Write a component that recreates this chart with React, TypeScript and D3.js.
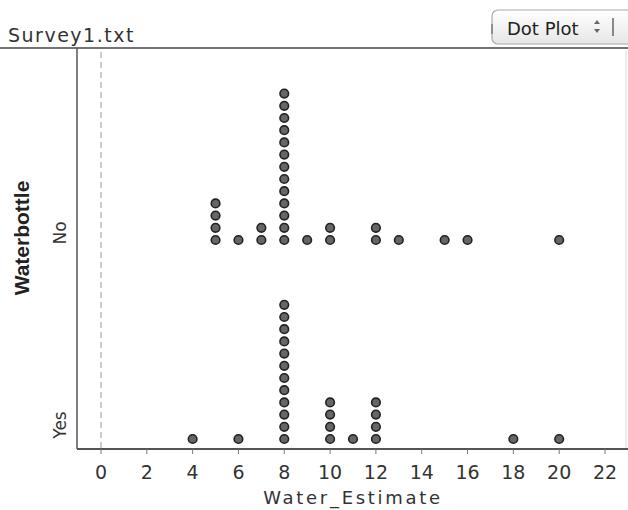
import React from "react";
import * as d3 from "d3";

const groups = ["No", "Yes"];
const noValues = [5, 6, 7, 8, 9, 10, 12, 13, 15, 16, 20];
const noCounts = [4, 1, 2, 13, 1, 2, 2, 1, 1, 1, 1];
const yesValues = [4, 6, 8, 10, 11, 12, 18, 20];
const yesCounts = [1, 1, 12, 4, 1, 4, 1, 1];
const xTicks = [0, 2, 4, 6, 8, 10, 12, 14, 16, 18, 20, 22];
const title = "Survey1.txt";
const xLabel = "Water_Estimate";
const yLabel = "Waterbottle";

const W = 628;
const H = 510;
const font = "'DejaVu Sans', sans-serif";

export default function App() {
  const x = d3.scaleLinear().domain([0, 22]).range([101, 605]);
  const y = d3.scalePoint<string>().domain(groups).range([240, 439]);
  const stack = d3.scaleLinear().domain([0, 1]).range([0, -12.2]);

  const series: { g: string; vals: number[]; counts: number[] }[] = [
    { g: "No", vals: noValues, counts: noCounts },
    { g: "Yes", vals: yesValues, counts: yesCounts },
  ];

  const dots: { cx: number; cy: number; key: string }[] = [];
  series.forEach((s) => {
    s.vals.forEach((v, i) => {
      d3.range(s.counts[i]).forEach((k) => {
        dots.push({ cx: x(v), cy: (y(s.g) as number) + stack(k), key: `${s.g}-${v}-${k}` });
      });
    });
  });

  const axisY = 449;
  const leftX = 77;

  return (
    <div style={{ position: "absolute", left: 0, top: 0 }}>
      <svg width={W} height={H} style={{ display: "block", background: "#fff" }}>
        <defs>
          <linearGradient id="btn" x1="0" y1="0" x2="0" y2="1">
            <stop offset="0" stopColor="#ffffff" />
            <stop offset="1" stopColor="#e6e6e6" />
          </linearGradient>
        </defs>
        {/* title */}
        <text x={8} y={42} fontFamily={font} fontSize={19} letterSpacing={1.5} fill="#333">
          {title}
        </text>
        {/* button */}
        <rect x={492} y={10} width={145} height={34} rx={6} fill="url(#btn)" stroke="#aaa" strokeWidth={1.2} />
        <line x1={492} y1={24} x2={492} y2={34} stroke="#555" strokeWidth={1} />
        <text x={507} y={35} fontFamily={font} fontSize={18} fill="#222">
          Dot Plot
        </text>
        <path d="M594,24 l3,-4 l3,4 z M594,29 l3,4 l3,-4 z" fill="#666" />
        <line x1={613} y1={18} x2={613} y2={36} stroke="#666" strokeWidth={1.5} />
        {/* top separator */}
        <line x1={0} y1={48} x2={W} y2={48} stroke="#444" strokeWidth={1.5} />
        {/* right faint border */}
        <line x1={626} y1={50} x2={626} y2={449} stroke="#ddd" strokeWidth={1} />
        {/* left axis */}
        <line x1={leftX} y1={48} x2={leftX} y2={axisY} stroke="#555" strokeWidth={1.5} />
        {/* zero dashed line */}
        <line x1={x(0)} y1={52} x2={x(0)} y2={axisY} stroke="#999" strokeWidth={1} strokeDasharray="6,4" />
        {/* bottom axis */}
        <line x1={leftX} y1={axisY} x2={W} y2={axisY} stroke="#555" strokeWidth={2} />
        {xTicks.map((t) => (
          <g key={t}>
            <line x1={x(t)} y1={axisY} x2={x(t)} y2={axisY + 5} stroke="#777" strokeWidth={1} />
            <text x={x(t)} y={479} textAnchor="middle" fontFamily={font} fontSize={19} fill="#333">
              {t}
            </text>
          </g>
        ))}
        <text x={353} y={504} textAnchor="middle" fontFamily={font} fontSize={18} letterSpacing={2.7} fill="#333">
          {xLabel}
        </text>
        {/* y labels */}
        {groups.map((g) => (
          <text
            key={g}
            transform={`translate(66,${g === "No" ? 233 : 425}) rotate(-90)`}
            textAnchor="middle"
            fontFamily={font}
            fontSize={17}
            fill="#333"
          >
            {g}
          </text>
        ))}
        <text
          transform="translate(29,238) rotate(-90)"
          textAnchor="middle"
          fontFamily="'Liberation Sans', Arial, sans-serif"
          fontWeight="bold"
          fontSize={21}
          fill="#222"
        >
          {yLabel}
        </text>
        {/* dots */}
        {dots.map((d) => (
          <circle key={d.key} cx={d.cx} cy={d.cy} r={4.3} fill="#666" stroke="#222" strokeWidth={1.6} />
        ))}
      </svg>
    </div>
  );
}
